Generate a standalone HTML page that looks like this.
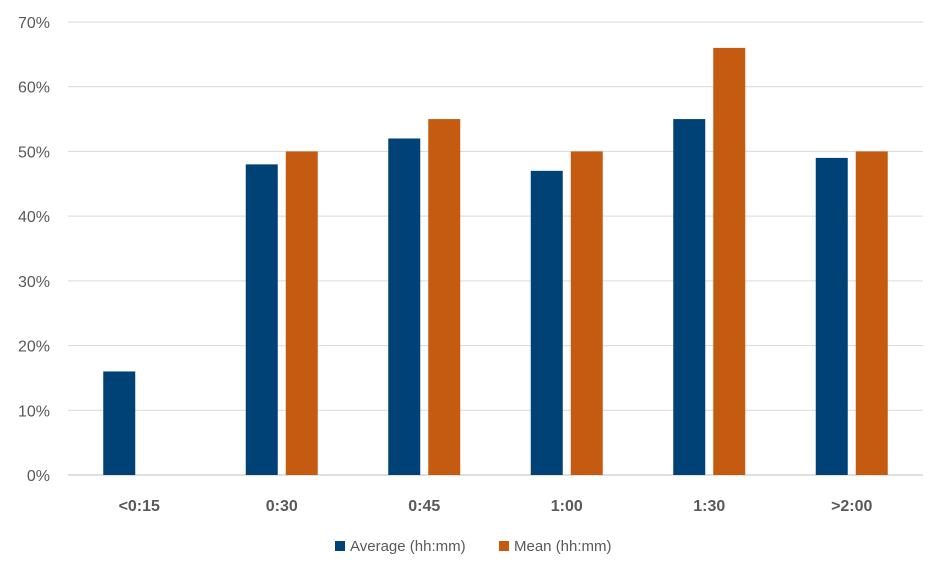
<!DOCTYPE html>
<html><head><meta charset="utf-8"><style>
body{margin:0;background:#fff;font-family:"Liberation Sans",sans-serif;}
</style></head><body>
<svg id="chart" width="945" height="576" viewBox="0 0 945 576" xmlns="http://www.w3.org/2000/svg">
<g id="grid"></g><g id="bars"></g><g id="labels"></g>
<g>
<rect x="335" y="541" width="10" height="10" fill="#004276"/>
<text x="350" y="551" font-size="15" fill="#595959">Average (hh:mm)</text>
<rect x="499" y="541" width="10" height="10" fill="#c55a11"/>
<text x="514" y="551" font-size="15" fill="#595959">Mean (hh:mm)</text>
</g>
</svg>
<script>
const categories=["<0:15","0:30","0:45","1:00","1:30",">2:00"];
const averageValues=[16,48,52,47,55,49];
const meanValues=[0,50,55,50,66,50];
const yTicks=[0,10,20,30,40,50,60,70];
const NS="http://www.w3.org/2000/svg";
const x0=68,x1=923,y0=475,yTop=22,yMax=70;
const yScale=v=>y0-(v/yMax)*(y0-yTop);
const band=(x1-x0)/categories.length;
const xCenter=i=>x0+band*(i+0.5);
const bw=32,gap=4;
function mk(tag,attrs,parent){const e=document.createElementNS(NS,tag);for(const k in attrs)e.setAttribute(k,attrs[k]);parent.appendChild(e);return e;}
const grid=document.getElementById('grid'),bars=document.getElementById('bars'),labels=document.getElementById('labels');
yTicks.forEach(t=>{
  const y=yScale(t);
  const l=mk('line',{x1:x0,x2:x1,y1:y,y2:y,stroke:t===0?'#bfbfbf':'#d9d9d9','stroke-width':1},grid);
  
  
  const tx=mk('text',{x:50,y:y+6,'font-size':16,fill:'#595959','text-anchor':'end'},labels);
  tx.textContent=t+'%';
  
  
});
categories.forEach((c,i)=>{
  const cx=xCenter(i);
  const a=averageValues[i],m=meanValues[i];
  const ra=mk('rect',{x:cx-gap-bw,y:yScale(a),width:bw,height:y0-yScale(a),fill:'#004276'},bars);
  
  
  const rm=mk('rect',{x:cx+gap,y:yScale(m),width:bw,height:y0-yScale(m),fill:'#c55a11'},bars);
  
  
  const tx=mk('text',{x:cx,y:511,'font-size':16,'font-weight':'bold',fill:'#595959','text-anchor':'middle'},labels);
  tx.textContent=c;
  
  
});
</script>
</body></html>
